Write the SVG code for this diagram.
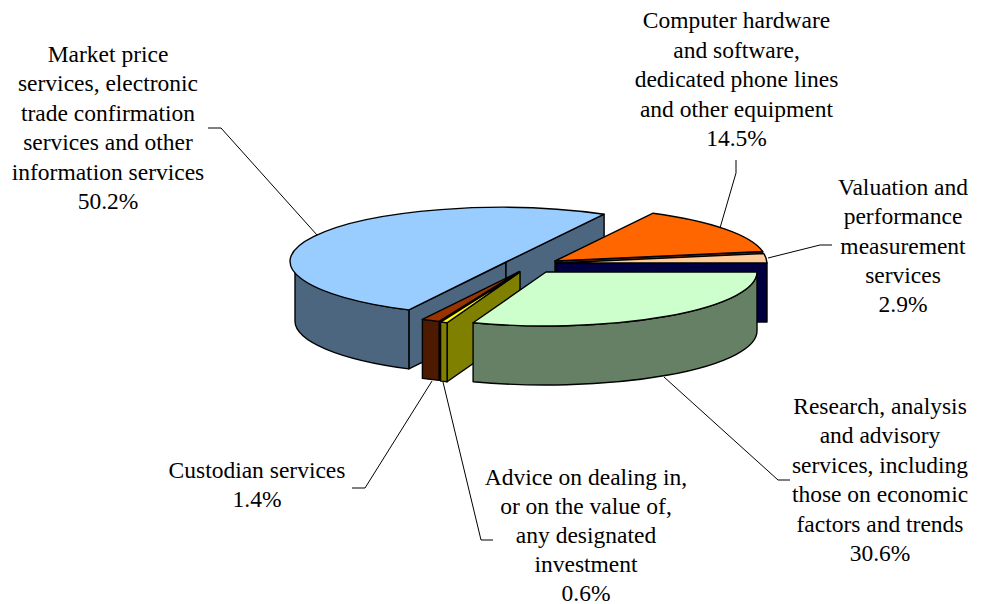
<svg xmlns="http://www.w3.org/2000/svg" width="987" height="604" viewBox="0 0 987 604">
<style>
  .e { stroke: #000; stroke-width: 1.4; stroke-linejoin: round; }
  .lbl { font-family: "Liberation Serif", "Times New Roman", serif; font-size: 23.5px; fill: #000; text-anchor: middle; }
  .ld { fill: none; stroke: #000; stroke-width: 1; }
</style>
<rect width="987" height="604" fill="#fff"/>

<g id="market-price">
  <polygon class="e" fill="#4D6680" points="506,262 408.9,309.9 408.9,368.9 506,321"/>
  <polygon class="e" fill="#4D6680" points="506,262 604.1,214.2 604.1,273.2 506,321"/>
  <path class="e" fill="#4D6680" d="M408.9,309.9 A211 54 0 0 1 295,262 L295,321 A211 54 0 0 0 408.9,368.9 Z"/>
  <path class="e" fill="#99CCFF" d="M506,262 L408.9,309.9 A211 54 0 1 1 604.1,214.2 Z"/>
  <text class="lbl" x="108" y="62">Market price</text>
  <text class="lbl" x="108" y="91.4">services, electronic</text>
  <text class="lbl" x="108" y="120.8">trade confirmation</text>
  <text class="lbl" x="108" y="150.2">services and other</text>
  <text class="lbl" x="108" y="179.6">information services</text>
  <text class="lbl" x="108" y="209">50.2%</text>
</g>

<g id="computer-hardware">
  <polygon class="e" fill="#803300" points="555,261 762.7,251.5 762.7,310.5 555,320"/>
  <path class="e" fill="#FF6600" d="M555,261 L653.1,213.2 A211 54 0 0 1 762.7,251.5 Z"/>
  <text class="lbl" x="736.5" y="28">Computer hardware</text>
  <text class="lbl" x="736.5" y="57.5">and software,</text>
  <text class="lbl" x="736.5" y="87">dedicated phone lines</text>
  <text class="lbl" x="736.5" y="116.5">and other equipment</text>
  <text class="lbl" x="736.5" y="146">14.5%</text>
</g>

<g id="valuation">
  <polygon class="e" fill="#000040" points="556,263 767,263 767,322 556,322"/>
  <path class="e" fill="#FFCC99" d="M556,263 L763.7,253.5 A211 54 0 0 1 767,263 Z"/>
  <text class="lbl" x="903" y="195">Valuation and</text>
  <text class="lbl" x="903" y="224">performance</text>
  <text class="lbl" x="903" y="253.5">measurement</text>
  <text class="lbl" x="903" y="283">services</text>
  <text class="lbl" x="903" y="312">2.9%</text>
</g>

<g id="custodian">
  <polygon class="e" fill="#4D1A00" points="519.5,271.5 439.1,321.4 439.1,380.4 519.5,330.5"/>
  <path class="e" fill="#4D1A00" d="M439.1,321.4 A211 54 0 0 1 422.4,319.4 L422.4,378.4 A211 54 0 0 0 439.1,380.4 Z"/>
  <path class="e" fill="#993300" d="M519.5,271.5 L439.1,321.4 A211 54 0 0 1 422.4,319.4 Z"/>
  <text class="lbl" x="257" y="478">Custodian services</text>
  <text class="lbl" x="257" y="507">1.4%</text>
</g>

<g id="advice">
  <polygon class="e" fill="#808000" points="520,272 447.1,322.7 447.1,381.7 520,331"/>
  <path class="e" fill="#808000" d="M447.1,322.7 A211 54 0 0 1 440.6,322.1 L440.6,381.1 A211 54 0 0 0 447.1,381.7 Z"/>
  <path class="e" fill="#FFFF00" d="M520,272 L447.1,322.7 A211 54 0 0 1 440.6,322.1 Z"/>
  <text class="lbl" x="586" y="485">Advice on dealing in,</text>
  <text class="lbl" x="586" y="514">or on the value of,</text>
  <text class="lbl" x="586" y="543">any designated</text>
  <text class="lbl" x="586" y="572">investment</text>
  <text class="lbl" x="586" y="600.5">0.6%</text>
</g>

<g id="research">
  <path class="e" fill="#668066" d="M757,272 A211 54 0 0 1 473.1,322.7 L473.1,381.7 A211 54 0 0 0 757,331 Z"/>
  <path class="e" fill="#CCFFCC" d="M546,272 L757,272 A211 54 0 0 1 473.1,322.7 Z"/>
  <text class="lbl" x="880" y="414">Research, analysis</text>
  <text class="lbl" x="880" y="443.4">and advisory</text>
  <text class="lbl" x="880" y="472.8">services, including</text>
  <text class="lbl" x="880" y="502.2">those on economic</text>
  <text class="lbl" x="880" y="531.6">factors and trends</text>
  <text class="lbl" x="880" y="561">30.6%</text>
</g>

<g id="connectors">
  <polyline class="ld" points="208,128 221,128 317,235"/>
  <polyline class="ld" points="736,160 736,173 720,228"/>
  <polyline class="ld" points="832,245 820,245 768,258"/>
  <polyline class="ld" points="664,377 778,480 790,480"/>
  <polyline class="ld" points="352,488 365,488 432,381"/>
  <polyline class="ld" points="443,382 481,540 493,540"/>
</g>
</svg>
